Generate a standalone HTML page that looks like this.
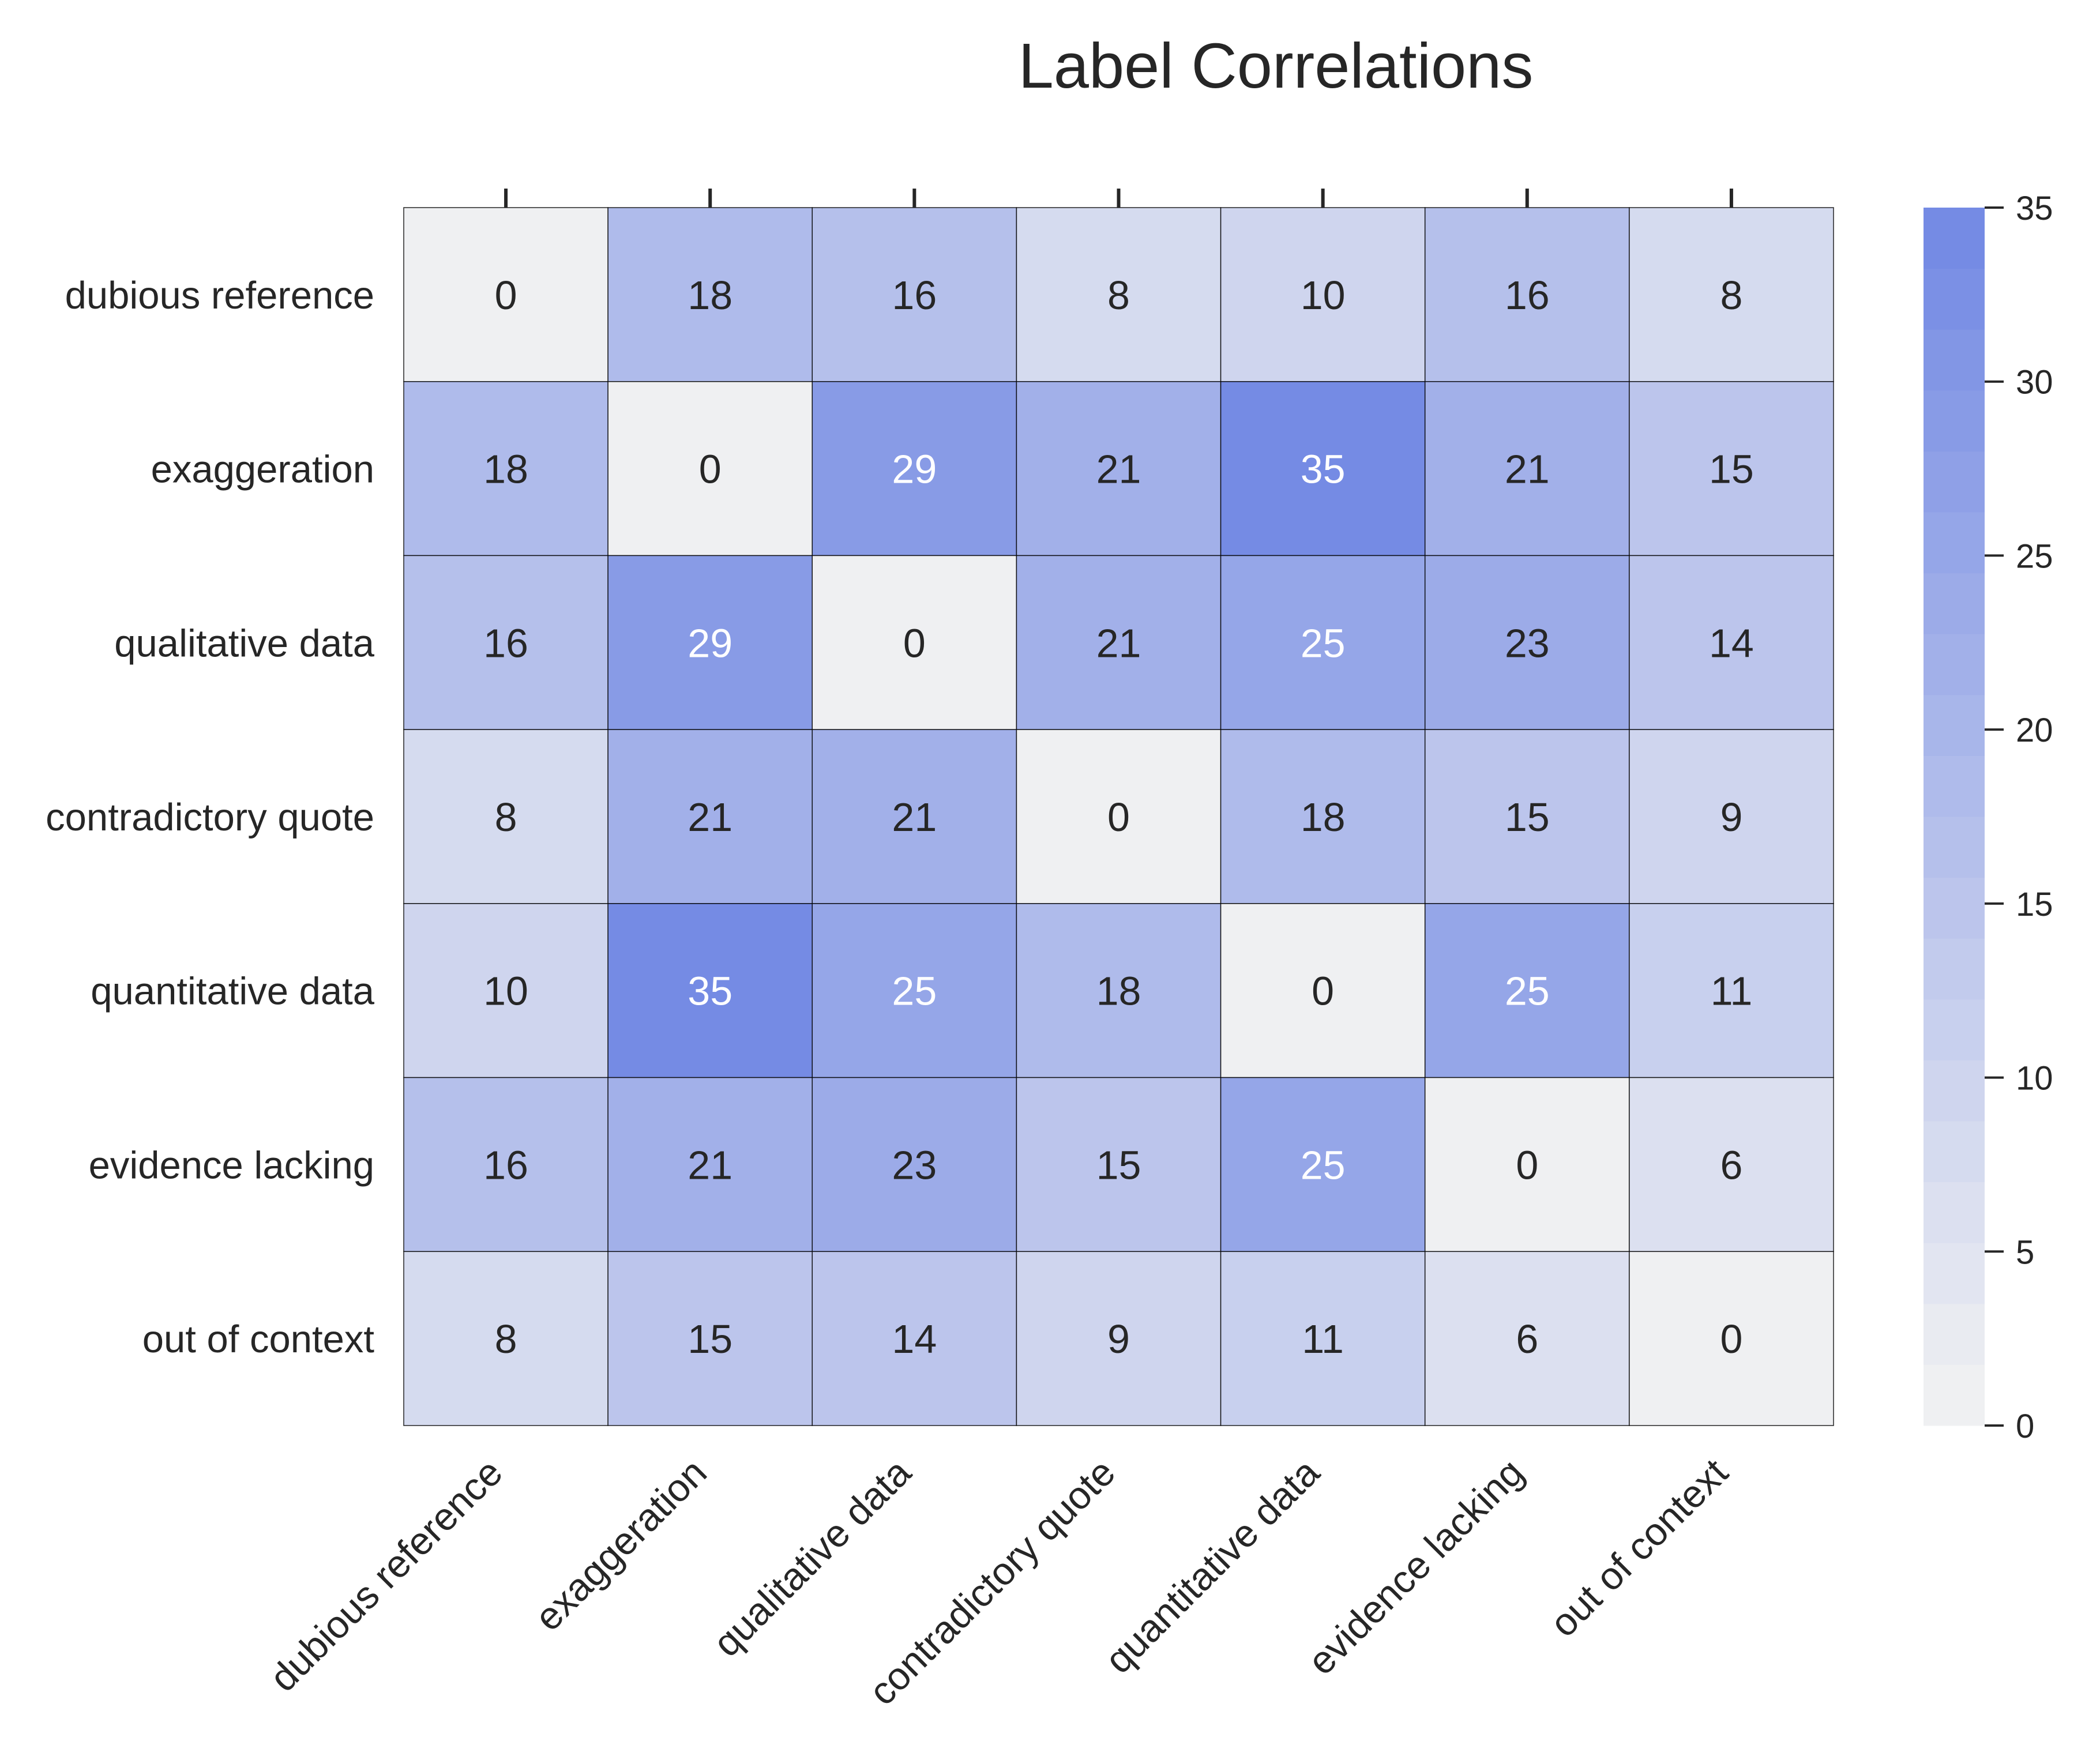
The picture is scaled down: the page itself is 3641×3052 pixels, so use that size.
<!DOCTYPE html>
<html><head><meta charset="utf-8">
<style>
html,body{margin:0;padding:0;background:#fff;}
svg{display:block;font-family:"Liberation Sans",Arial,sans-serif;}
</style></head>
<body>
<svg id="chart" width="3641" height="3052" viewBox="0 0 3641 3052" xmlns="http://www.w3.org/2000/svg">
<rect width="3641" height="3052" fill="#ffffff"/>
<text x="2212" y="152" font-size="110" fill="#262626" text-anchor="middle">Label Correlations</text>
<g id="cells"></g>
<g id="ylabels"></g>
<g id="xlabels"></g>
<g id="colorbar"></g>
</svg>
<script>
const categories = ["dubious reference","exaggeration","qualitative data","contradictory quote","quantitative data","evidence lacking","out of context"];
const row0 = [0,18,16,8,10,16,8];
const row1 = [18,0,29,21,35,21,15];
const row2 = [16,29,0,21,25,23,14];
const row3 = [8,21,21,0,18,15,9];
const row4 = [10,35,25,18,0,25,11];
const row5 = [16,21,23,15,25,0,6];
const row6 = [8,15,14,9,11,6,0];
const matrix = [row0,row1,row2,row3,row4,row5,row6];
const cbarTicks = [0,5,10,15,20,25,30,35];
const vmin = 0, vmax = 35, nLevels = 20;

const NS = "http://www.w3.org/2000/svg";
const L = 700, R = 3179, T = 360, B = 2472;
const n = categories.length;
const cw = (R - L) / n, ch = (B - T) / n;
const xPos = i => L + i * cw;
const yPos = j => T + j * ch;
const c0 = [239,240,242], c1 = [117,139,228];
function color(v){
  let lv = Math.floor((v - vmin) / (vmax - vmin) * nLevels);
  lv = Math.max(0, Math.min(nLevels - 1, lv));
  const t = lv / (nLevels - 1);
  const c = c0.map((a,k)=>Math.round(a + (c1[k]-a)*t));
  return `rgb(${c[0]},${c[1]},${c[2]})`;
}
function mk(tag, attrs, parent){
  const e = document.createElementNS(NS, tag);
  for (const k in attrs) e.setAttribute(k, attrs[k]);
  parent.appendChild(e);
  return e;
}
const gc = document.getElementById("cells");
matrix.forEach((row, j) => {
  row.forEach((v, i) => {
    const r = mk("rect", {x:xPos(i), y:yPos(j), width:cw, height:ch, fill:color(v), stroke:"#000", "stroke-width":1.5, "stroke-opacity":0.85}, gc);
    
    
    const t = mk("text", {x:xPos(i)+cw/2, y:yPos(j)+ch/2+25, "font-size":70, "text-anchor":"middle", fill: v >= 24 ? "#ffffff" : "#262626"}, gc);
    t.textContent = v;
    
    
  });
});
for (let i = 0; i < n; i++) {
  const tk = mk("line", {x1:xPos(i)+cw/2, x2:xPos(i)+cw/2, y1:327, y2:360, stroke:"#262626", "stroke-width":6}, gc);
  
  
}
const gy = document.getElementById("ylabels");
categories.forEach((c, j) => {
  const t = mk("text", {x:649, y:yPos(j)+ch/2+24, "font-size":67, "text-anchor":"end", fill:"#262626"}, gy);
  t.textContent = c;
  
  
});
const gx = document.getElementById("xlabels");
categories.forEach((c, i) => {
  const cx = xPos(i) + cw/2;
  const t = mk("text", {transform:`translate(${cx-2},${2558}) rotate(-45)`, "font-size":67, "text-anchor":"end", fill:"#262626"}, gx);
  t.textContent = c;
  
  
});
const gcb = document.getElementById("colorbar");
const cbL = 3335, cbR = 3441;
const cbY = v => B - (v - vmin) / (vmax - vmin) * (B - T);
for (let k = 0; k < nLevels; k++) {
  const v0 = vmin + k * (vmax - vmin) / nLevels, v1 = vmin + (k+1) * (vmax - vmin) / nLevels;
  const r = mk("rect", {x:cbL, y:cbY(v1), width:cbR-cbL, height:cbY(v0)-cbY(v1)+0.5, fill:color((v0+v1)/2)}, gcb);
  
  
}
cbarTicks.forEach(v => {
  const l = mk("line", {x1:cbR, x2:3474, y1:cbY(v), y2:cbY(v), stroke:"#262626", "stroke-width":4}, gcb);
  
  
  const t = mk("text", {x:3495, y:cbY(v)+21, "font-size":58, fill:"#262626"}, gcb);
  t.textContent = v;
  
  
});
</script>
</body></html>
